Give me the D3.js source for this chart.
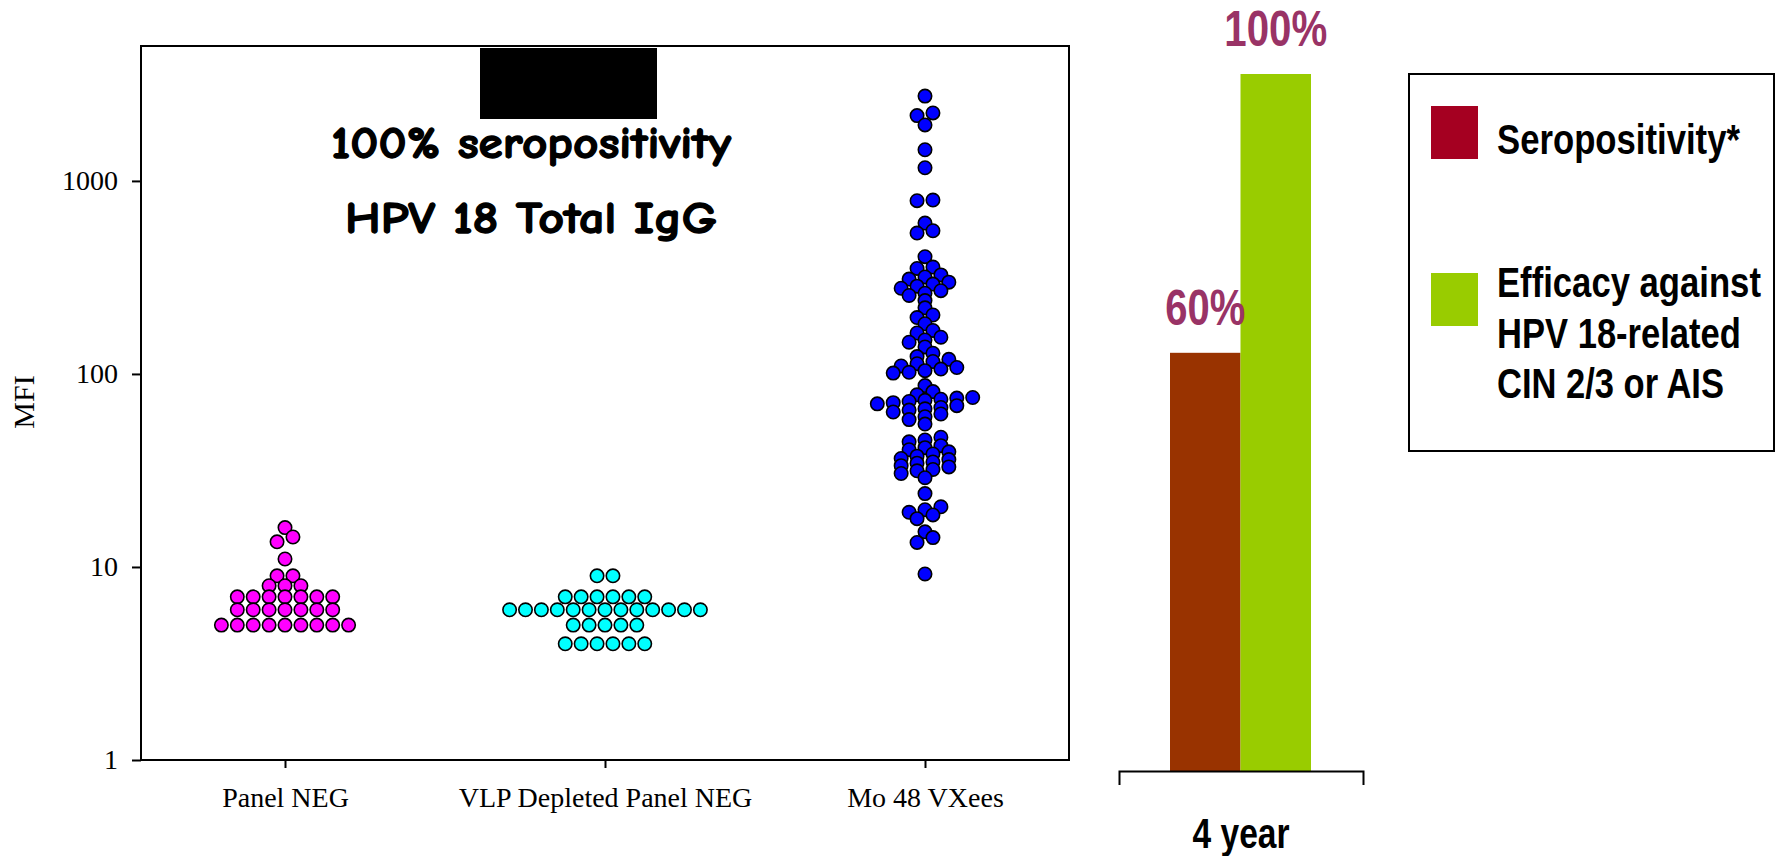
<!DOCTYPE html>
<html>
<head>
<meta charset="utf-8">
<script src="https://cdn.jsdelivr.net/npm/d3@7"></script>
<style>
  html, body { margin: 0; background: #ffffff; }
  svg { display: block; }
</style>
</head>
<body>
<svg id="chart" width="1776" height="856"></svg>
<script>
// --- data -------------------------------------------------------------
const categories = ["Panel NEG", "VLP Depleted Panel NEG", "Mo 48 VXees"];

const panelNeg = [
  5, 5, 5, 5, 5, 5, 5, 5, 5,
  6, 6, 6, 6, 6, 6, 6,
  7, 7, 7, 7, 7, 7, 7,
  8, 8, 8, 9, 9, 11, 13.5, 14.3, 16,
];

const vlpDepleted = [
  4, 4, 4, 4, 4, 4,
  5, 5, 5, 5, 5,
  6, 6, 6, 6, 6, 6, 6, 6, 6, 6, 6, 6, 6,
  7, 7, 7, 7, 7, 7,
  9, 9,
];

const mo48 = [
  2750, 2250, 2180, 1950, 1450, 1170, 796, 790, 605, 552, 537,
  405, 358, 352, 326, 318, 310, 299, 292, 285, 278, 270, 262, 255,
  240, 220, 202, 196, 182, 168, 163, 155, 150, 146, 138, 128, 123,
  119, 116, 113, 110, 108, 106, 104, 102, 101, 87, 81, 78,
  75.5, 75, 74, 73, 72, 71, 70, 68.5, 67, 66, 65, 63.5, 62, 60, 58, 55,
  47, 45.5, 44.5, 42.5, 41.5, 40.5, 39.5, 38.5, 37.5, 36.5,
  36, 35, 34.5, 33.5, 33, 32, 31.5, 30.5, 29, 24,
  20.5, 19.8, 19.2, 18.6, 17.8, 15.2, 14.2, 13.4, 9.2,
];

const yTicks = [1, 10, 100, 1000];

const noteLines = ["100% seropositivity", "HPV 18 Total IgG"];

const barGroup = ["4 year"];
const barSeries = ["Seropositivity*", "Efficacy against HPV 18-related CIN 2/3 or AIS"];
const barValues = [60, 100];
const barLabels = ["60%", "100%"];
const legendLines = [
  ["Seropositivity*"],
  ["Efficacy against", "HPV 18-related", "CIN 2/3 or AIS"],
];

// --- styles -----------------------------------------------------------
const SERIF = "'Liberation Serif', 'Times New Roman', serif";
const NARROW = "'Liberation Sans Narrow', 'Arial Narrow', 'Liberation Sans', Arial, sans-serif";
const COMIC = "'Comic Sans MS', 'Comic Neue', 'DejaVu Sans', sans-serif";

const DOT_COLORS = ["#ff00ff", "#00ffff", "#0000ff"];
const BAR_COLORS = ["#993300", "#99cc00"];
const LEGEND_COLORS = ["#a50021", "#99cc00"];
const LABEL_COLOR = "#993366";

const BIN = 0.04;   // log10 bin height used to line up dots side by side
const STEP = 15.9;  // horizontal spacing between dots in one bin
const RADIUS = 6.7;

// --- helpers ----------------------------------------------------------
function swarm(values, category) {
  const bins = d3.group(values, (v) => Math.floor(Math.log10(v) / BIN));
  const points = [];

  for (const group of bins.values()) {
    const sorted = group.slice().sort(d3.ascending);
    sorted.forEach((value, index) => {
      points.push({ value, category, offset: index - (sorted.length - 1) / 2 });
    });
  }

  return points.sort((a, b) => b.value - a.value);
}

// squeeze a text horizontally to a given width (the source uses a narrow face)
function fitWidth(selection, px, py, width, anchor) {
  selection.each(function fit(d, i) {
    const node = this;
    const natural = node.getComputedTextLength() || 1;
    const k = Math.min(1, width(d, i) / natural);
    node.setAttribute("x", 0);
    node.setAttribute("y", 0);
    node.setAttribute("text-anchor", anchor);
    node.setAttribute("transform", `translate(${px(d, i)},${py(d, i)}) scale(${k},1)`);
  });
}

const svg = d3.select("#chart");

// --- left panel: MFI scatter ------------------------------------------
const plot = { left: 141, right: 1069, top: 46, bottom: 760 };

const x = d3.scalePoint()
  .domain(categories)
  .range([plot.left, plot.right])
  .padding(0.45);

const y = d3.scaleLog()
  .domain([1, 5000])
  .range([plot.bottom, plot.top]);

svg.append("rect")
  .attr("x", plot.left)
  .attr("y", plot.top)
  .attr("width", plot.right - plot.left)
  .attr("height", plot.bottom - plot.top)
  .attr("fill", "none")
  .attr("stroke", "#000")
  .attr("stroke-width", 2);

svg.append("g")
  .attr("transform", `translate(${plot.left},0)`)
  .call(d3.axisLeft(y).tickValues(yTicks).tickFormat(d3.format("d"))
    .tickSize(9).tickSizeOuter(0).tickPadding(14))
  .call((g) => g.select(".domain").remove())
  .call((g) => g.selectAll("line").attr("stroke", "#000").attr("stroke-width", 2))
  .call((g) => g.selectAll("text")
    .attr("font-family", SERIF)
    .attr("font-size", 28)
    .attr("fill", "#000"));

svg.append("g")
  .attr("transform", `translate(0,${plot.bottom})`)
  .call(d3.axisBottom(x).tickSize(8).tickSizeOuter(0).tickPadding(19))
  .call((g) => g.select(".domain").remove())
  .call((g) => g.selectAll("line").attr("stroke", "#000").attr("stroke-width", 2))
  .call((g) => g.selectAll("text")
    .attr("font-family", SERIF)
    .attr("font-size", 28)
    .attr("fill", "#000"));

svg.append("text")
  .attr("transform", `translate(34,402) rotate(-90)`)
  .attr("text-anchor", "middle")
  .attr("font-family", SERIF)
  .attr("font-size", 30)
  .text("MFI");

// redaction block above the note
svg.append("rect")
  .attr("x", 480)
  .attr("y", 48)
  .attr("width", 177)
  .attr("height", 71)
  .attr("fill", "#000");

svg.append("g")
  .selectAll("text")
  .data(noteLines)
  .join("text")
  .attr("x", 531)
  .attr("y", (d, i) => 158 + i * 75)
  .attr("text-anchor", "middle")
  .attr("font-family", COMIC)
  .attr("font-weight", "bold")
  .attr("font-size", 44)
  .attr("stroke", "#000")
  .attr("stroke-width", 1.3)
  .attr("textLength", (d, i) => (i === 0 ? 400 : 372))
  .attr("lengthAdjust", "spacingAndGlyphs")
  .text((d) => d);

const groups = [panelNeg, vlpDepleted, mo48];

groups.forEach((values, index) => {
  svg.append("g")
    .selectAll("circle")
    .data(swarm(values, categories[index]))
    .join("circle")
    .attr("cx", (d) => x(d.category) + d.offset * STEP)
    .attr("cy", (d) => y(d.value))
    .attr("r", RADIUS)
    .attr("fill", DOT_COLORS[index])
    .attr("stroke", "#000")
    .attr("stroke-width", 1.6);
});

// --- right panel: bars ------------------------------------------------
const groupX = d3.scaleBand().domain(barGroup).range([1119, 1363]);
const barX = d3.scaleBand().domain(barSeries).range([1170, 1311]).padding(0);
const barY = d3.scaleLinear().domain([0, 100]).range([771, 74]);

svg.append("g")
  .selectAll("rect")
  .data(barSeries)
  .join("rect")
  .attr("x", (d) => barX(d))
  .attr("y", (d, i) => barY(barValues[i]))
  .attr("width", barX.bandwidth())
  .attr("height", (d, i) => barY(0) - barY(barValues[i]))
  .attr("fill", (d, i) => BAR_COLORS[i]);

svg.append("g")
  .selectAll("text")
  .data(barSeries)
  .join("text")
  .attr("font-family", NARROW)
  .attr("font-weight", "bold")
  .attr("font-size", 50)
  .attr("fill", LABEL_COLOR)
  .text((d, i) => barLabels[i])
  .call(fitWidth,
    (d) => barX(d) + barX.bandwidth() / 2,
    (d, i) => barY(barValues[i]) - 28,
    (d, i) => (barLabels[i].length === 4 ? 103 : 80),
    "middle");

svg.append("g")
  .attr("transform", `translate(0,${barY(0)})`)
  .call(d3.axisBottom(groupX).tickSize(0).tickSizeOuter(14))
  .call((g) => g.select(".domain").attr("stroke", "#000").attr("stroke-width", 2))
  .call((g) => g.selectAll("text")
    .attr("dy", 0)
    .attr("font-family", NARROW)
    .attr("font-weight", "bold")
    .attr("font-size", 42)
    .attr("fill", "#000")
    .call(fitWidth, () => 0, () => 77, () => 97, "middle"));

// legend
const legend = svg.append("g");

legend.append("rect")
  .attr("x", 1409)
  .attr("y", 74)
  .attr("width", 365)
  .attr("height", 377)
  .attr("fill", "#fff")
  .attr("stroke", "#000")
  .attr("stroke-width", 2);

const legendRows = [{ swatch: 106, base: 154 }, { swatch: 273, base: 297 }];
const legendWidths = {
  "Seropositivity*": 243,
  "Efficacy against": 264,
  "HPV 18-related": 244,
  "CIN 2/3 or AIS": 227,
};

legendLines.forEach((lines, i) => {
  legend.append("rect")
    .attr("x", 1431)
    .attr("y", legendRows[i].swatch)
    .attr("width", 47)
    .attr("height", 53)
    .attr("fill", LEGEND_COLORS[i]);

  legend.append("g")
    .selectAll("text")
    .data(lines)
    .join("text")
    .attr("font-family", NARROW)
    .attr("font-weight", "bold")
    .attr("font-size", 42)
    .text((d) => d)
    .call(fitWidth,
      () => 1497,
      (d, j) => legendRows[i].base + j * 50.5,
      (d) => legendWidths[d],
      "start");
});
</script>
</body>
</html>
